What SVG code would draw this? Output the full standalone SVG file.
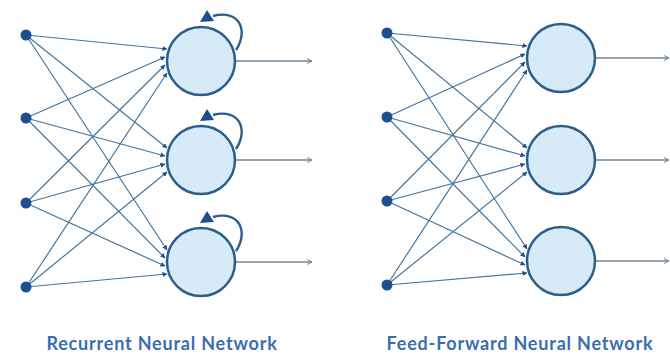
<svg xmlns="http://www.w3.org/2000/svg" width="670" height="356" viewBox="0 0 670 356">
<style>
.bg{fill:#ffffff}
.in{fill:#1d4f8f}
.cell{fill:#d6eaf7;stroke:#2c5e8c;stroke-width:2.5}
.edge{stroke:#46759f;stroke-width:1.2;fill:none}
.out{stroke:#6f8799;stroke-width:1.3;fill:none}
.loop{stroke:#2c5e8c;stroke-width:2.4;fill:none}
.head{fill:#1d4f8f}
.lbl{font-family:Lato,"Open Sans","Liberation Sans",sans-serif;font-weight:bold;font-size:18px;letter-spacing:0.8px;fill:#3a6db0;text-anchor:middle}
</style>
<defs>
<marker id="ah" viewBox="0 0 6 6" refX="5.5" refY="3" markerWidth="5" markerHeight="5" markerUnits="userSpaceOnUse" orient="auto">
<path d="M0,0 L6,3 L0,6 Z" fill="#1d4f8f"/>
</marker>
<marker id="oh" viewBox="0 0 6 6" refX="5.5" refY="3" markerWidth="6" markerHeight="6" markerUnits="userSpaceOnUse" orient="auto">
<path d="M0.5,0.5 L5.5,3 L0.5,5.5" fill="none" stroke="#6f8799" stroke-width="1"/>
</marker>
</defs>
<rect class="bg" x="0" y="0" width="670" height="356"/>

<g id="connectors">
<g class="edge" marker-end="url(#ah)">
<line x1="26" y1="35" x2="167" y2="49"/>
<line x1="26" y1="118" x2="165" y2="57"/>
<line x1="26" y1="203" x2="165" y2="65"/>
<line x1="26" y1="287" x2="167" y2="73"/>
<line x1="26" y1="35" x2="167" y2="148"/>
<line x1="26" y1="118" x2="165" y2="156"/>
<line x1="26" y1="203" x2="165" y2="164"/>
<line x1="26" y1="287" x2="167" y2="172"/>
<line x1="26" y1="35" x2="167" y2="250"/>
<line x1="26" y1="118" x2="165" y2="258"/>
<line x1="26" y1="203" x2="165" y2="266"/>
<line x1="26" y1="287" x2="167" y2="274"/>
</g>
<g class="out" marker-end="url(#oh)">
<line x1="236" y1="61" x2="312" y2="61"/>
<line x1="236" y1="160" x2="312" y2="160"/>
<line x1="236" y1="262" x2="312" y2="262"/>
</g>
<g class="loop">
<path d="M236,50 C249,30 239,9 213,16"/>
<path d="M236,149 C249,129 239,108 213,115"/>
<path d="M236,251 C249,231 239,210 213,217"/>
</g>
<g class="head">
<path d="M207,10 L200,22 L214,21 Z"/>
<path d="M207,109 L200,121 L214,120 Z"/>
<path d="M207,211 L200,223 L214,222 Z"/>
</g>
<g class="edge" marker-end="url(#ah)">
<line x1="387" y1="33" x2="527" y2="46"/>
<line x1="387" y1="117" x2="525" y2="54"/>
<line x1="387" y1="201" x2="525" y2="62"/>
<line x1="387" y1="285" x2="527" y2="70"/>
<line x1="387" y1="33" x2="527" y2="148"/>
<line x1="387" y1="117" x2="525" y2="156"/>
<line x1="387" y1="201" x2="525" y2="164"/>
<line x1="387" y1="285" x2="527" y2="172"/>
<line x1="387" y1="33" x2="527" y2="249"/>
<line x1="387" y1="117" x2="525" y2="257"/>
<line x1="387" y1="201" x2="525" y2="265"/>
<line x1="387" y1="285" x2="527" y2="273"/>
</g>
<g class="out" marker-end="url(#oh)">
<line x1="596" y1="58" x2="669" y2="58"/>
<line x1="596" y1="160" x2="669" y2="160"/>
<line x1="596" y1="261" x2="669" y2="261"/>
</g>
</g>

<g id="rnn-in1"><circle class="in" cx="26" cy="35" r="5.5"/></g>
<g id="rnn-in2"><circle class="in" cx="26" cy="118" r="5.5"/></g>
<g id="rnn-in3"><circle class="in" cx="26" cy="203" r="5.5"/></g>
<g id="rnn-in4"><circle class="in" cx="26" cy="287" r="5.5"/></g>
<g id="rnn-h1"><circle class="cell" cx="201" cy="61" r="34"/></g>
<g id="rnn-h2"><circle class="cell" cx="201" cy="160" r="34"/></g>
<g id="rnn-h3"><circle class="cell" cx="201" cy="262" r="34"/></g>

<g id="ff-in1"><circle class="in" cx="387" cy="33" r="5.5"/></g>
<g id="ff-in2"><circle class="in" cx="387" cy="117" r="5.5"/></g>
<g id="ff-in3"><circle class="in" cx="387" cy="201" r="5.5"/></g>
<g id="ff-in4"><circle class="in" cx="387" cy="285" r="5.5"/></g>
<g id="ff-h1"><circle class="cell" cx="561" cy="58" r="34"/></g>
<g id="ff-h2"><circle class="cell" cx="561" cy="160" r="34"/></g>
<g id="ff-h3"><circle class="cell" cx="561" cy="261" r="34"/></g>

<g id="labels">
<text class="lbl" x="162" y="350">Recurrent Neural Network</text>
<text class="lbl" x="520" y="350">Feed-Forward Neural Network</text>
</g>
</svg>
